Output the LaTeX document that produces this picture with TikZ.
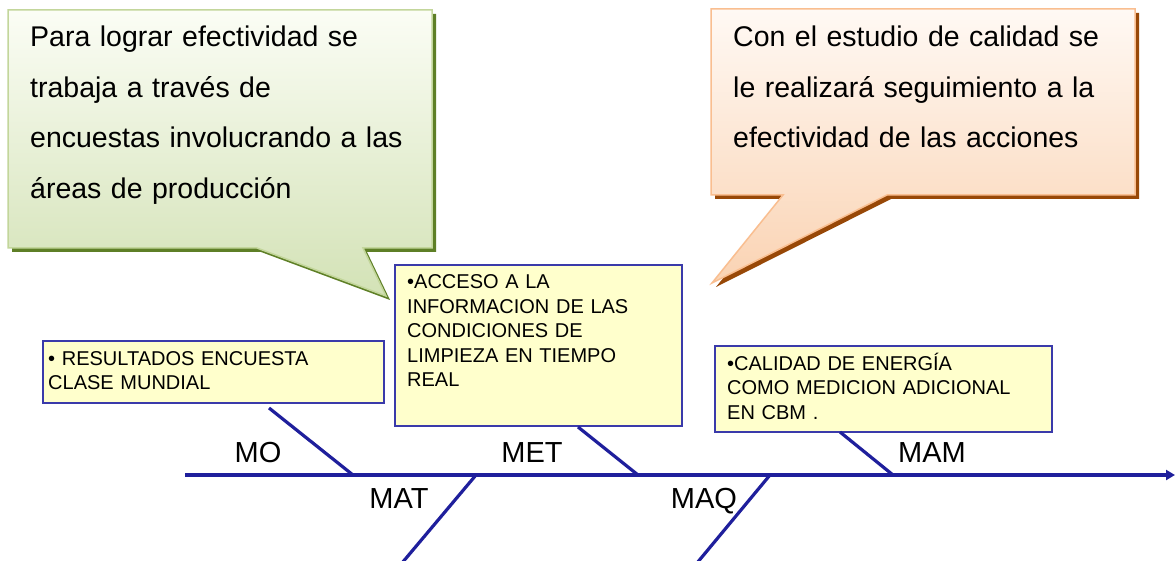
\documentclass[tikz,border=0pt]{standalone}
\usepackage{fontspec}
\setmainfont{Liberation Sans}
\usetikzlibrary{arrows.meta}
\definecolor{navy}{HTML}{1F1F9C}
\definecolor{boxblue}{HTML}{3A3AAA}
\definecolor{yel}{HTML}{FFFFCC}
\definecolor{gtop}{HTML}{FBFDF5}
\definecolor{gbot}{HTML}{D3E2B6}
\definecolor{gbord}{HTML}{C3D69B}
\definecolor{gshad}{HTML}{5E7F26}
\definecolor{otop}{HTML}{FFF9F4}
\definecolor{obot}{HTML}{FAD3B3}
\definecolor{obord}{HTML}{F9BE90}
\definecolor{oshad}{HTML}{984807}
\tikzset{
  ybox/.style={draw=boxblue, line width=1.6pt, fill=yel},
  ytext/.style={inner sep=0pt, anchor=base west, text width=#1, align=left,
    font=\fontsize{20}{24.5}\selectfont},
  ctext/.style={inner sep=0pt, anchor=base west, text width=#1, align=left,
    font=\fontsize{28.5}{50.5}\selectfont},
  lbl/.style={inner sep=0pt, anchor=base, font=\fontsize{29}{30}\selectfont},
  bone/.style={draw=navy, line width=3.2pt},
}
\begin{document}
\begin{tikzpicture}[x=1pt,y=-1pt]
\useasboundingbox (0,0) rectangle (1175,561);
\fill[white] (0,0) rectangle (1175,561);

% green callout
\fill[gshad] (12,14) -- (436,14) -- (436,252) -- (367,252) -- (390,300) -- (261,252) -- (12,252) -- cycle;
\path[draw=gbord, line width=1.5pt, top color=gtop, bottom color=gbot]
  (8,10) -- (432,10) -- (432,248) -- (363,248) -- (386,296) -- (257,248) -- (8,248) -- cycle;
\node[ctext=400pt] (gtxt) at (30,47) {Para lograr efectividad se\\trabaja a través de\\encuestas involucrando a las\\áreas de producción};

% orange callout
\fill[oshad] (715,13) -- (1139,13) -- (1139,199) -- (891,199) -- (716,287) -- (787,199) -- (715,199) -- cycle;
\path[draw=obord, line width=1.5pt, top color=otop, bottom color=obot]
  (711,9) -- (1135,9) -- (1135,195) -- (887,195) -- (712,283) -- (783,195) -- (711,195) -- cycle;
\node[ctext=400pt] (otxt) at (733,47) {Con el estudio de calidad se\\le realizará seguimiento a la\\efectividad de las acciones};

% yellow boxes
\draw[ybox] (43,341) rectangle (384,403);
\node[ytext=330pt] (b1) at (48,365) {• RESULTADOS ENCUESTA\\CLASE MUNDIAL};
\draw[ybox] (395,265) rectangle (682,426);
\node[ytext=280pt] (b2) at (407,289) {•ACCESO A LA\\INFORMACION DE LAS\\CONDICIONES DE\\LIMPIEZA EN TIEMPO\\REAL};
\draw[ybox] (715,346) rectangle (1052,432);
\node[ytext=330pt] (b3) at (727,370) {•CALIDAD DE ENERGÍA\\COMO MEDICION ADICIONAL\\EN CBM .};

% spine
\coordinate (s0) at (185,475);
\coordinate (s1) at (1175,475);
\draw[navy, line width=3.4pt, -{Triangle[length=9pt,width=10pt]}] (s0) -- (s1);

% bones
\coordinate (mo1) at (269,408);  \coordinate (mo2) at (353,475);
\coordinate (me1) at (578,427);  \coordinate (me2) at (638,475);
\coordinate (mm1) at (840,432);  \coordinate (mm2) at (893,475);
\coordinate (ma1) at (476,475);  \coordinate (ma2) at (402,563);
\coordinate (mq1) at (770,475);  \coordinate (mq2) at (697,563);
\draw[bone] (mo1) -- (mo2);
\draw[bone] (me1) -- (me2);
\draw[bone] (mm1) -- (mm2);
\draw[bone] (ma1) -- (ma2);
\draw[bone] (mq1) -- (mq2);

% labels
\node[lbl] (lmo) at (258,462) {MO};
\node[lbl] (lme) at (532,462) {MET};
\node[lbl] (lmm) at (932,462) {MAM};
\node[lbl] (lma) at (399,508) {MAT};
\node[lbl] (lmq) at (704,508) {MAQ};
\end{tikzpicture}
\end{document}
